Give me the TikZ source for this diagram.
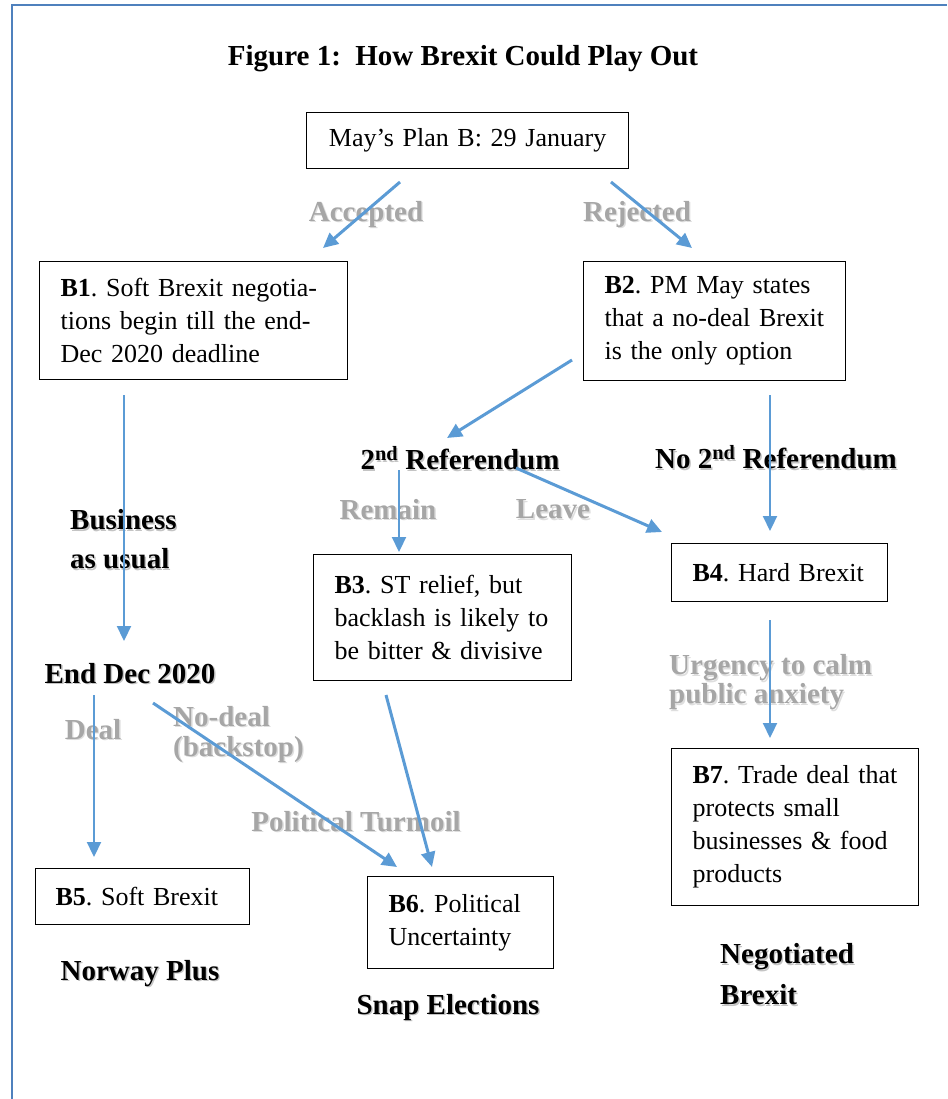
\documentclass[tikz,border=0pt]{standalone}
\usepackage{fontspec}
\setmainfont{Liberation Serif}
\usetikzlibrary{arrows.meta}
\definecolor{arrowblue}{HTML}{5B9BD5}
\definecolor{framec}{HTML}{4F81BD}
\definecolor{greylab}{HTML}{A6A6A6}
\definecolor{shdark}{HTML}{C4C4C4}
\definecolor{shlight}{HTML}{DEDEDE}
\newcommand\shd[2][shdark]{\makebox[0pt][l]{\kern1.4pt\raisebox{-1.4pt}{\textcolor{#1}{#2}}}#2}
\newcommand\lne[1]{\mbox{#1}}
\frenchspacing
\begin{document}
\begin{tikzpicture}[x=1pt,y=-1pt,
  box/.style={draw=black, line width=1.2pt, inner xsep=21pt, inner ysep=0pt, align=left,
    font=\fontsize{26}{33}\selectfont, anchor=north west},
  lab/.style={inner sep=0pt, yshift=-3pt, font=\bfseries\fontsize{29}{39}\selectfont},
  glab/.style={lab, text=greylab},
  arr/.style={draw=arrowblue, line width=2.2pt, -{Triangle[length=15pt,width=14pt]}},
  arrw/.style={arr, line width=3pt},
  frame/.style={draw=framec, line width=2.2pt}]
\useasboundingbox (0,0) rectangle (947,1099);
\draw[frame] (12,1099) -- (12,5) -- (947,5);

% title
\node[inner sep=0pt, yshift=-3pt, font=\bfseries\fontsize{29}{35}\selectfont] (title) at (463,56) {Figure 1:\ \ How Brexit Could Play Out};

% boxes
\node[box, align=center, text width=280pt, minimum height=56pt] (plan) at (306,112) {\lne{May’s Plan B: 29 January}};
\node[box, text width=266pt, minimum height=118pt] (b1) at (39,261)
  {\lne{\textbf{B1}. Soft Brexit negotia-}\\\lne{tions begin till the end-}\\\lne{Dec 2020 deadline}};
\node[box, text width=220pt, minimum height=119pt] (b2) at (583,261)
  {\lne{\textbf{B2}. PM May states}\\\lne{that a no-deal Brexit}\\\lne{is the only option}};
\node[box, text width=216pt, minimum height=126pt] (b3) at (313,554)
  {\lne{\textbf{B3}. ST relief, but}\\\lne{backlash is likely to}\\\lne{be bitter \& divisive}};
\node[box, text width=174pt, minimum height=58pt] (b4) at (671,543)
  {\lne{\textbf{B4}. Hard Brexit}};
\node[box, text width=205pt, minimum height=157pt] (b7) at (671,748)
  {\lne{\textbf{B7}. Trade deal that}\\\lne{protects small}\\\lne{businesses \& food}\\\lne{products}};
\node[box, inner xsep=20pt, text width=174pt, minimum height=56pt] (b5) at (35,868)
  {\lne{\textbf{B5}. Soft Brexit}};
\node[box, text width=144pt, minimum height=92pt] (b6) at (367,876)
  {\lne{\textbf{B6}. Political}\\\lne{Uncertainty}};

% bold labels
\node[lab] (ref2) at (460,456) {\shd{2\textsuperscript{nd} Referendum}};
\node[lab] (noref) at (776,455) {\shd{No 2\textsuperscript{nd} Referendum}};
\node[lab, anchor=west, align=left] (bau) at (70,537) {\shd{Business}\\\shd{as usual}};
\node[lab] (enddec) at (130,671) {\shd{End Dec 2020}};
\node[lab] (norway) at (140,971) {\shd{Norway Plus}};
\node[lab] (snap) at (448,1005) {\shd{Snap Elections}};
\node[lab, anchor=west, align=left, font=\bfseries\fontsize{29}{41}\selectfont] (negb) at (720,972) {\shd{Negotiated}\\\shd{Brexit}};

% grey labels
\node[glab] (acc) at (366,212) {\shd[shlight]{Accepted}};
\node[glab] (rej) at (637,212) {\shd[shlight]{Rejected}};
\node[glab] (rem) at (388,507) {\shd[shlight]{Remain}};
\node[glab] (lea) at (553,507) {\shd[shlight]{Leave}};
\node[glab, anchor=west, align=left, font=\bfseries\fontsize{29}{29}\selectfont] (urg) at (669,680) {\shd[shlight]{Urgency to calm}\\\shd[shlight]{public anxiety}};
\node[glab] (deal) at (93,727) {\shd[shlight]{Deal}};
\node[glab, anchor=west, align=left, font=\bfseries\fontsize{29}{30}\selectfont] (nodeal) at (173,732) {\shd[shlight]{No-deal}\\\shd[shlight]{(backstop)}};
\node[glab] (turm) at (356,819) {\shd[shlight]{Political Turmoil}};

% arrow end points
\coordinate (a1s) at (400,182); \coordinate (a1e) at (323,248);
\coordinate (a2s) at (611,182); \coordinate (a2e) at (692,248);
\coordinate (a3s) at (124,395); \coordinate (a3e) at (124,641);
\coordinate (a4s) at (572,360); \coordinate (a4e) at (447,438);
\coordinate (a5s) at (770,395); \coordinate (a5e) at (770,531);
\coordinate (a6s) at (399,470); \coordinate (a6e) at (399,552);
\coordinate (a7s) at (516,468); \coordinate (a7e) at (662,532);
\coordinate (a8s) at (770,620); \coordinate (a8e) at (770,738);
\coordinate (a9s) at (94,695);  \coordinate (a9e) at (94,857);
\coordinate (a10s) at (153,703); \coordinate (a10e) at (397,867);
\coordinate (a11s) at (386,695); \coordinate (a11e) at (432,867);

\draw[arrw] (a1s) -- (a1e);
\draw[arrw] (a2s) -- (a2e);
\draw[arr] (a3s) -- (a3e);
\draw[arrw] (a4s) -- (a4e);
\draw[arr] (a5s) -- (a5e);
\draw[arr] (a6s) -- (a6e);
\draw[arrw] (a7s) -- (a7e);
\draw[arr] (a8s) -- (a8e);
\draw[arr] (a9s) -- (a9e);
\draw[arrw] (a10s) -- (a10e);
\draw[arrw] (a11s) -- (a11e);
\end{tikzpicture}
\end{document}
